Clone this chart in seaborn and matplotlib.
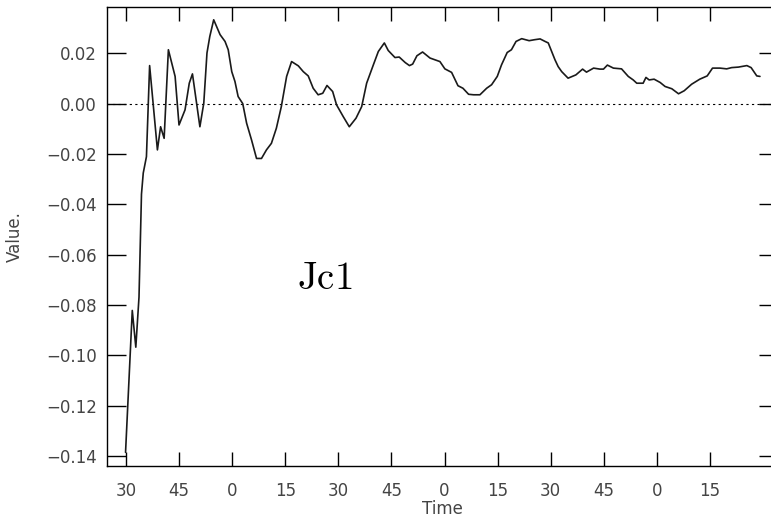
import matplotlib
matplotlib.use("Agg")
import matplotlib.pyplot as plt
import seaborn as sns
import pandas as pd

# ---- data ----
time_min = [29.9, 31.8, 32.8, 33.7, 34.4, 34.9, 35.8, 36.7, 38.9, 39.8, 40.8, 42.0,
            43.9, 45.0, 46.7, 47.9, 48.8, 50.9, 52.0, 52.9, 53.7, 54.8, 56.6, 58.0,
            58.9, 59.9, 60.8, 61.7, 63.0, 64.1, 65.5, 66.9, 68.3, 69.7, 71.1, 72.5,
            73.9, 75.4, 76.8, 78.7, 80.1, 81.5, 82.9, 84.3, 85.6, 86.8, 88.4, 89.5,
            91.4, 93.1, 95.0, 96.6, 98.0, 99.9, 101.3, 103.0, 104.1, 106.0, 107.2,
            108.9, 110.1, 111.0, 112.2, 113.8, 115.9, 118.7, 120.1, 122.0, 123.8,
            125.2, 126.8, 128.2, 130.0, 131.9, 133.3, 134.9, 136.1, 137.7, 138.9,
            140.2, 141.8, 143.9, 145.5, 147.0, 148.4, 149.3, 151.2, 152.1, 153.1,
            154.9, 157.1, 159.0, 160.1, 162.1, 163.9, 164.9, 166.0, 167.7, 170.0,
            171.9, 173.3, 174.3, 176.1, 176.9, 177.8, 179.2, 180.9, 182.3, 184.2,
            186.1, 187.7, 189.8, 192.1, 194.2, 195.7, 197.8, 199.7, 201.1, 203.0,
            205.4, 206.6, 208.2, 209.1]
values = [-0.1386, -0.0822, -0.0968, -0.0769, -0.0360, -0.0276, -0.0211, 0.0151,
          -0.0184, -0.0092, -0.0138, 0.0214, 0.0108, -0.0085, -0.0025, 0.0081, 0.0118,
          -0.0092, 0.0002, 0.0201, 0.0267, 0.0333, 0.0274, 0.0247, 0.0214, 0.0127,
          0.0088, 0.0028, 0.0000, -0.0078, -0.0145, -0.0218, -0.0218, -0.0184, -0.0158,
          -0.0098, -0.0012, 0.0108, 0.0167, 0.0150, 0.0127, 0.0110, 0.0061, 0.0035,
          0.0041, 0.0072, 0.0048, -0.0005, -0.0052, -0.0092, -0.0058, -0.0012, 0.0081,
          0.0154, 0.0207, 0.0241, 0.0211, 0.0183, 0.0185, 0.0163, 0.0151, 0.0157,
          0.0190, 0.0205, 0.0181, 0.0167, 0.0138, 0.0124, 0.0071, 0.0061, 0.0037,
          0.0035, 0.0035, 0.0061, 0.0075, 0.0108, 0.0154, 0.0203, 0.0214, 0.0247,
          0.0258, 0.0250, 0.0254, 0.0257, 0.0247, 0.0241, 0.0174, 0.0147, 0.0127,
          0.0101, 0.0114, 0.0137, 0.0125, 0.0141, 0.0137, 0.0137, 0.0153, 0.0141,
          0.0138, 0.0108, 0.0094, 0.0081, 0.0081, 0.0104, 0.0094, 0.0097, 0.0084,
          0.0068, 0.0059, 0.0039, 0.0051, 0.0077, 0.0097, 0.0110, 0.0141, 0.0141,
          0.0138, 0.0143, 0.0145, 0.0151, 0.0143, 0.0110, 0.0108]
xtick_pos = [30, 45, 60, 75, 90, 105, 120, 135, 150, 165, 180, 195]
xtick_labels = ["30", "45", "0", "15", "30", "45", "0", "15", "30", "45", "0", "15"]
ytick_pos = [0.02, 0.00, -0.02, -0.04, -0.06, -0.08, -0.10, -0.12, -0.14]
ytick_labels = ["0.02", "0.00", "\u22120.02", "\u22120.04", "\u22120.06", "\u22120.08",
                "\u22120.10", "\u22120.12", "\u22120.14"]
annotation = "Jc1"

df = pd.DataFrame({"Time": time_min, "Value": values})

sns.set_theme(style="ticks")
plt.rcParams["font.family"] = ["DejaVu Sans"]
plt.rcParams["mathtext.fontset"] = "cm"

fig = plt.figure(figsize=(7.71, 5.20), dpi=100)
# right spine sits just outside the picture, as in the reference
ax = fig.add_axes([0.1385, 0.1044, 0.8706, 0.8827])

ax.axhline(0.0, color="black", lw=0.8, linestyle=(0, (2, 3)), zorder=1)
sns.lineplot(data=df, x="Time", y="Value", ax=ax, color="#1a1a1a", lw=1.2,
             estimator=None, sort=False, zorder=2)

ax.set_xlim(24.6, 214.2)
ax.set_ylim(-0.1439, 0.0385)
ax.set_xticks(xtick_pos)
ax.set_xticklabels(xtick_labels)
ax.set_yticks(ytick_pos)
ax.set_yticklabels(ytick_labels)

txtc = "#444444"
ax.tick_params(axis="x", which="both", direction="in", length=10, width=1.0,
               top=True, bottom=True, pad=12, labelsize=12, labelcolor=txtc, color="black")
ax.tick_params(axis="y", which="both", direction="in", length=14, width=1.0,
               left=True, right=True, pad=7, labelsize=12, labelcolor=txtc, color="black")

for s in ax.spines.values():
    s.set_visible(True)
    s.set_color("black")
    s.set_linewidth(1.0)

ax.set_xlabel("Time", fontsize=12, color=txtc)
ax.set_ylabel("Value.", fontsize=12, color=txtc)
ax.xaxis.set_label_coords(0.5, -0.075)
ax.yaxis.set_label_coords(-0.123, 0.5)

ax.text(0.3245, 0.408, r"$\mathrm{" + annotation + "}$", transform=ax.transAxes,
        ha="center", va="center", fontsize=28, color="black")

fig.savefig("out.png", dpi=100)
